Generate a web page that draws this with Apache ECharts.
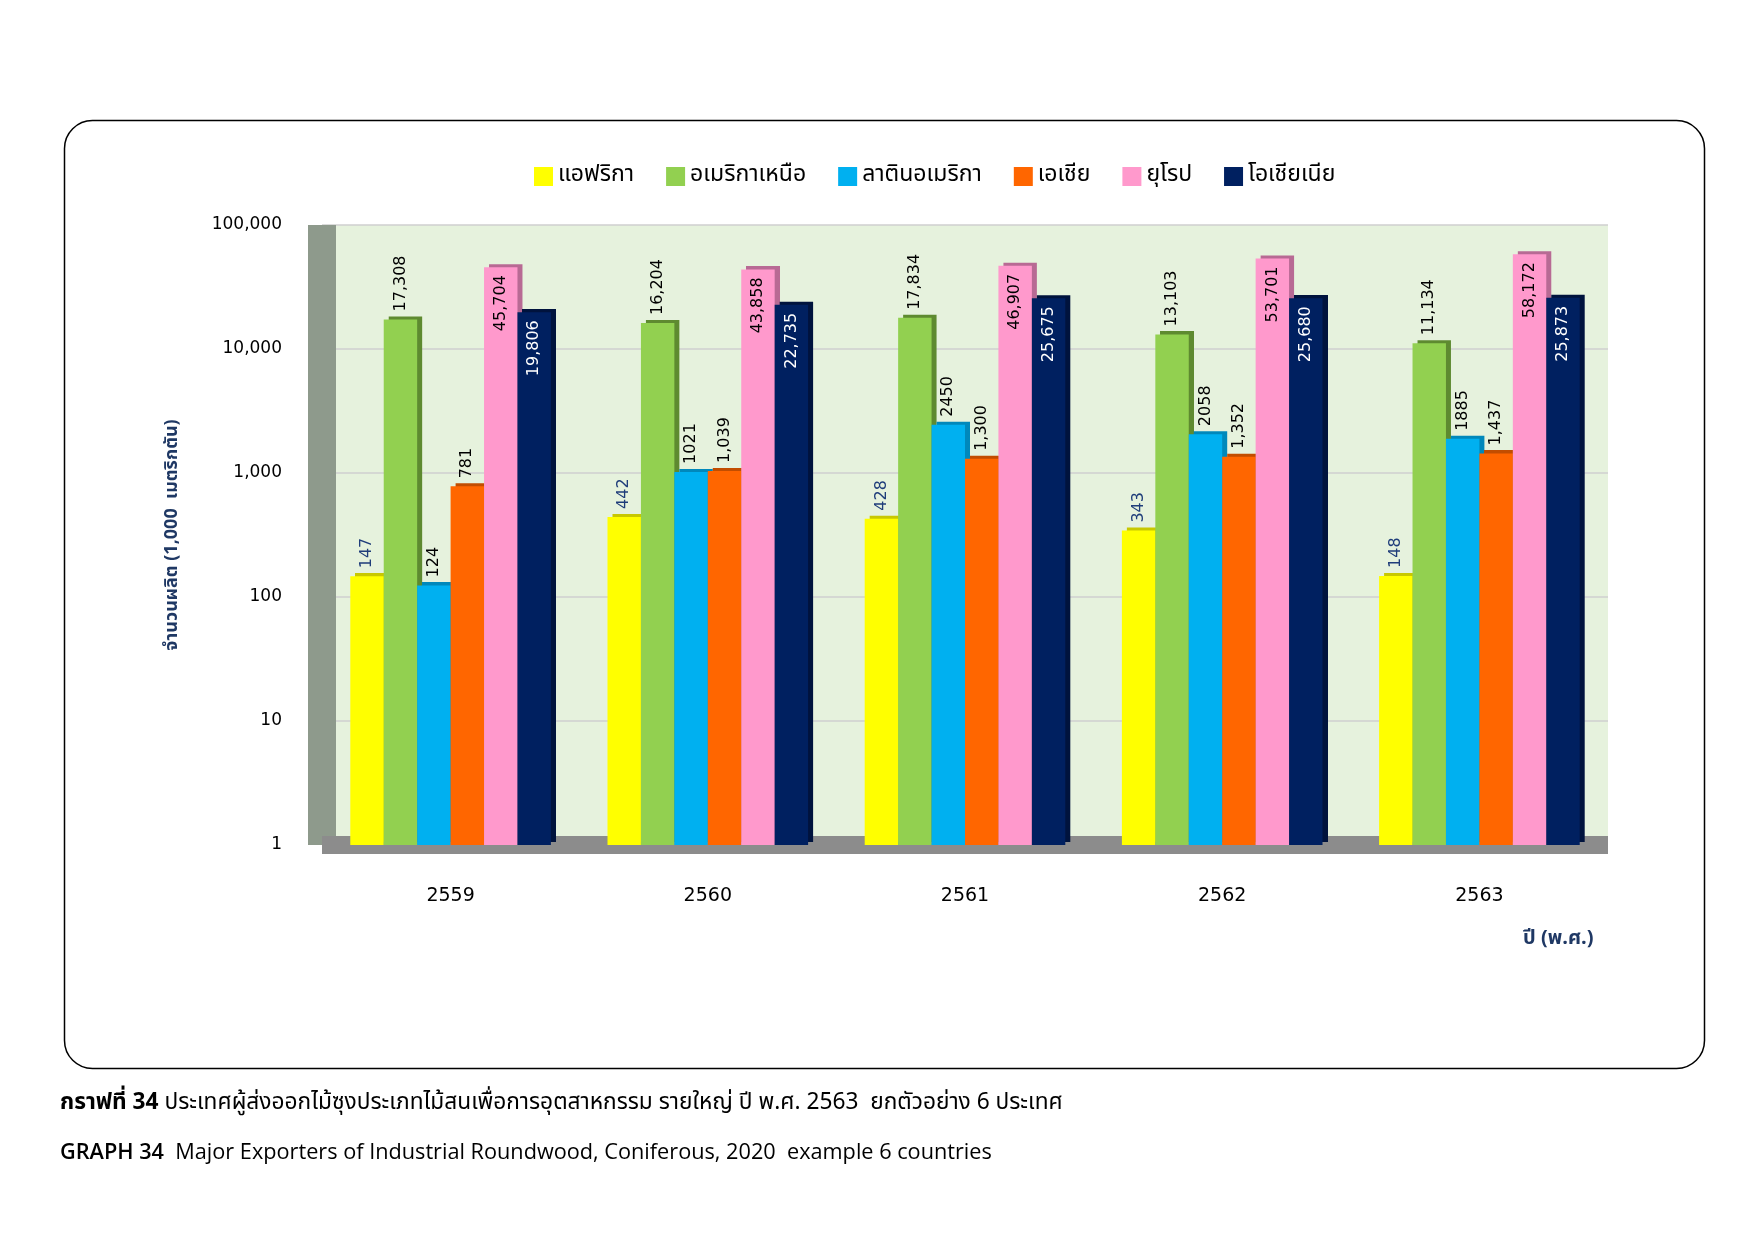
<!DOCTYPE html>
<html><head><meta charset="utf-8">
<script src="https://cdn.jsdelivr.net/npm/echarts@6/dist/echarts.min.js"></script>
<style>html,body{margin:0;padding:0;background:#fff}#c{width:1755px;height:1241px}</style>
</head><body><div id="c"></div>
<script>
const years = ['2559','2560','2561','2562','2563'];
const seriesNames = ['แอฟริกา','อเมริกาเหนือ','ลาตินอเมริกา','เอเชีย','ยุโรป','โอเชียเนีย'];
const africa = [147, 442, 428, 343, 148];
const northAmerica = [17308, 16204, 17834, 13103, 11134];
const latinAmerica = [124, 1021, 2450, 2058, 1885];
const asia = [781, 1039, 1300, 1352, 1437];
const europe = [45704, 43858, 46907, 53701, 58172];
const oceania = [19806, 22735, 25675, 25680, 25873];
const labelText = [
  ['147','442','428','343','148'],
  ['17,308','16,204','17,834','13,103','11,134'],
  ['124','1021','2450','2058','1885'],
  ['781','1,039','1,300','1,352','1,437'],
  ['45,704','43,858','46,907','53,701','58,172'],
  ['19,806','22,735','25,675','25,680','25,873']
];
const yTicks = ['1','10','100','1,000','10,000','100,000'];

const values = [africa, northAmerica, latinAmerica, asia, europe, oceania];
const colors = ['#FFFF00','#92D050','#00B0F0','#FF6600','#FF99CC','#002060'];
const sideColors = ['#C8C800','#5E8A30','#0088BB','#C24D00','#B86A94','#00133D'];
const labelColors = ['#1F3D7A','#000','#000','#000','#000','#fff'];
const labelPos = ['top','top','top','top','insideTop','insideTop'];
const numFont = 'DejaVu Sans, Verdana, sans-serif';
const thaiFont = '"Noto Sans Thai", "Leelawadee UI", Tahoma, "Noto Sans", sans-serif';
const latinFont = '"Open Sans", "Noto Sans", sans-serif';

const chart = echarts.init(document.getElementById('c'));
const series = seriesNames.map((n, i) => ({
  name: n, type: 'bar', barGap: '0%', barCategoryGap: '22%',
  data: values[i],
  itemStyle: { color: colors[i], shadowColor: sideColors[i], shadowOffsetX: 5, shadowOffsetY: -3, shadowBlur: 0.01 },
  label: {
    show: true, rotate: 90, position: labelPos[i], distance: 8,
    align: labelPos[i] === 'top' ? 'left' : 'right',
    verticalAlign: 'middle',
    color: labelColors[i], fontFamily: numFont, fontSize: 16,
    formatter: p => labelText[i][p.dataIndex]
  }
}));

chart.setOption({
  animation: false,
  backgroundColor: '#fff',
  legend: {
    data: seriesNames, left: 529, top: 160, itemWidth: 19, itemHeight: 19, itemGap: 32,
    icon: 'rect',
    textStyle: { fontFamily: thaiFont, fontSize: 23, color: '#000' }
  },
  grid: { left: 322, right: 147, top: 225, bottom: 396, show: true, backgroundColor: '#E6F2DD', borderWidth: 0 },
  xAxis: {
    type: 'category', data: years,
    axisLine: { show: true, lineStyle: { color: '#8C8C8C', width: 18, cap: 'butt' } },
    axisTick: { show: false },
    axisLabel: { margin: 42, fontFamily: numFont, fontSize: 19, color: '#000' }
  },
  yAxis: {
    type: 'log', logBase: 10, min: 1, max: 100000,
    name: 'จำนวนผลิต (1,000  เมตริกตัน)', nameLocation: 'middle', nameGap: 140, nameRotate: 90,
    nameTextStyle: { fontFamily: thaiFont, fontSize: 18, color: '#1F3864', fontWeight: 'bold' },
    axisLine: { show: true, lineStyle: { color: '#8E9A8C', width: 28, cap: 'butt' } },
    axisTick: { show: false },
    splitLine: { lineStyle: { color: '#CFCFCF', width: 1.5 } },
    axisLabel: { margin: 40, fontFamily: numFont, fontSize: 17, color: '#000',
      formatter: v => yTicks[Math.round(Math.log10(v))] }
  },
  series: series,
  graphic: [
    { type: 'rect', left: 62, top: 118, shape: { width: 1640, height: 948, r: 28 },
      style: { fill: 'none', stroke: '#000', lineWidth: 1.5 }, z: -10, silent: true },
    { type: 'text', left: 1523, top: 930, style: { text: 'ปี (พ.ศ.)', fontFamily: thaiFont, fontSize: 20, fontWeight: 'bold', fill: '#1F3864' } },
    { type: 'text', left: 60, top: 1093, style: {
        text: '{b|กราฟที่ 34} ประเทศผู้ส่งออกไม้ซุงประเภทไม้สนเพื่อการอุตสาหกรรม รายใหญ่ ปี พ.ศ. 2563  ยกตัวอย่าง 6 ประเทศ',
        fontFamily: thaiFont, fontSize: 22.7, fill: '#000',
        rich: { b: { fontWeight: 'bold', fontFamily: thaiFont, fontSize: 22.7 } } } },
    { type: 'text', left: 60, top: 1142, style: {
        text: '{b|GRAPH 34}  Major Exporters of Industrial Roundwood, Coniferous, 2020  example 6 countries',
        fontFamily: latinFont, fontSize: 21.7, fill: '#000',
        rich: { b: { fontWeight: 600, fontFamily: latinFont, fontSize: 21.7 } } } }
  ]
});
</script></body></html>
